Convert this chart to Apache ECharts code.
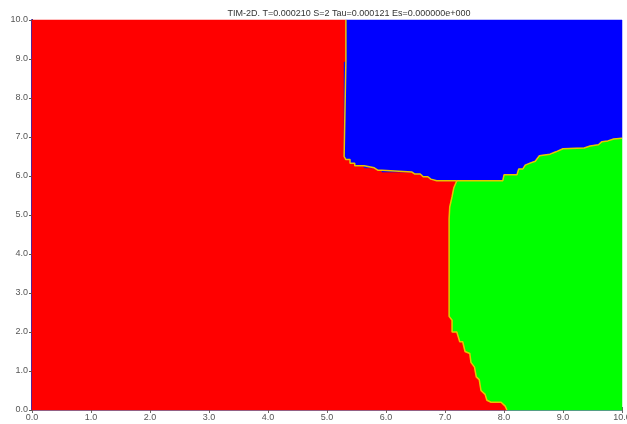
<!DOCTYPE html>
<html>
<head>
<meta charset="utf-8">
<script src="https://cdn.jsdelivr.net/npm/echarts@6/dist/echarts.min.js"></script>
<style>
  html, body { margin: 0; padding: 0; background: #fff; }
  #main { width: 627px; height: 424px; }
</style>
</head>
<body>
<div id="main"></div>
<script>
    // 坐标刻度
    var tickValues = [0, 1, 2, 3, 4, 5, 6, 7, 8, 9, 10];

    // 红/蓝 界线 (从顶边到三相交点)
    var redBlue = [[5.32, 10.0], [5.32, 8.92], [5.29, 8.92], [5.29, 6.50], [5.32, 6.42], [5.39, 6.42],
        [5.39, 6.33], [5.47, 6.33], [5.47, 6.26], [5.63, 6.26], [5.63, 6.21], [5.80, 6.21],
        [5.86, 6.15], [5.93, 6.15], [5.93, 6.10], [6.44, 6.10], [6.49, 6.05], [6.58, 6.05],
        [6.63, 5.98], [6.71, 5.98], [6.76, 5.92], [6.86, 5.88], [7.20, 5.88]];

    // 蓝/绿 界线 (从交点到右边)
    var blueGreen = [[7.20, 5.88], [7.98, 5.88], [8.00, 6.03], [8.22, 6.03], [8.25, 6.18], [8.32, 6.18],
        [8.36, 6.28], [8.44, 6.33], [8.53, 6.38], [8.60, 6.52], [8.78, 6.56], [8.88, 6.62],
        [9.00, 6.70], [9.36, 6.72], [9.46, 6.77], [9.60, 6.80], [9.66, 6.88], [9.76, 6.90],
        [9.86, 6.95], [10.0, 6.97]];

    // 红/绿 界线 (从交点到底边)
    var redGreen = [[7.20, 5.88], [7.15, 5.70], [7.12, 5.47], [7.08, 5.20], [7.07, 4.90], [7.07, 2.40],
        [7.12, 2.30], [7.12, 2.00], [7.20, 2.00], [7.25, 1.75], [7.30, 1.75], [7.34, 1.50],
        [7.42, 1.45], [7.44, 1.22], [7.50, 1.10], [7.53, 0.85], [7.58, 0.78], [7.61, 0.50],
        [7.68, 0.40], [7.71, 0.25], [7.78, 0.20], [7.95, 0.20], [8.02, 0.10], [8.05, 0.0]];

    function rev(a) { return a.slice().reverse(); }

    var redPoly = [[0, 0], [0, 10]].concat(redBlue, redGreen.slice(1));
    var bluePoly = [[10, 10]].concat(rev(blueGreen), rev(redBlue).slice(1, -1), [[redBlue[0][0], 10]]);
    var greenPoly = [].concat(blueGreen, [[10, 0]], rev(redGreen).slice(0, -1));

    function region(name, poly, color) {
        return {
            name: name,
            type: 'custom',
            data: [0],
            silent: true,
            z: 1,
            renderItem: function (params, api) {
                var pts = poly.map(function (p) { return api.coord(p); });
                return {
                    type: 'polygon',
                    shape: { points: pts },
                    style: { fill: color, stroke: color, lineWidth: 0.5 }
                };
            }
        };
    }

    function border(data) {
        return {
            type: 'line',
            data: data,
            symbol: 'none',
            silent: true,
            z: 3,
            lineStyle: { color: '#e8c400', width: 1.5 }
        };
    }

    var labelStyle = {
        color: '#555',
        fontSize: 9,
        fontFamily: 'Liberation Sans, Arial, sans-serif',
        formatter: function (v) { return v.toFixed(1); }
    };

    var chart = echarts.init(document.getElementById('main'));
    var option = {
        animation: false,
        title: {
            text: 'TIM-2D. T=0.000210 S=2 Tau=0.000121 Es=0.000000e+000',
            left: 344,
            textAlign: 'center',
            top: 4,
            textStyle: { fontSize: 9, fontWeight: 'normal', color: '#333', fontFamily: 'Liberation Sans, Arial, sans-serif' }
        },
        grid: { left: 32, right: 5, top: 20, bottom: 14, outerBoundsMode: 'none', containLabel: false },
        xAxis: [{
            type: 'value', min: 0, max: 10, interval: 1,
            axisLine: { show: true, lineStyle: { color: '#3040c0', width: 1.5 } },
            axisTick: { show: true, length: 3, lineStyle: { color: '#666' } },
            axisLabel: Object.assign({ margin: 3, showMaxLabel: true }, labelStyle),
            splitLine: { show: false }
        }, {
            type: 'value', min: 0, max: 10, interval: 1, position: 'top',
            axisLine: { show: true, lineStyle: { color: '#7080b0', width: 1 } },
            axisTick: { show: true, length: 3, lineStyle: { color: '#666' } },
            axisLabel: { show: false },
            splitLine: { show: false }
        }],
        yAxis: [{
            type: 'value', min: 0, max: 10, interval: 1,
            axisLine: { show: true, lineStyle: { color: '#2030c0', width: 2 } },
            axisTick: { show: true, length: 3, lineStyle: { color: '#666' } },
            axisLabel: Object.assign({ margin: 4 }, labelStyle),
            splitLine: { show: false }
        }, {
            type: 'value', min: 0, max: 10, interval: 1, position: 'right',
            axisLine: { show: true, lineStyle: { color: '#000', width: 1 } },
            axisTick: { show: true, inside: true, length: 3, lineStyle: { color: '#555' } },
            axisLabel: { show: false },
            splitLine: { show: false }
        }],
        series: [
            region('red', redPoly, '#ff0000'),
            region('blue', bluePoly, '#0000ff'),
            region('green', greenPoly, '#00ff00'),
            border(redBlue),
            border(blueGreen),
            border(redGreen)
        ]
    };
    chart.setOption(option);
</script>
</body>
</html>
